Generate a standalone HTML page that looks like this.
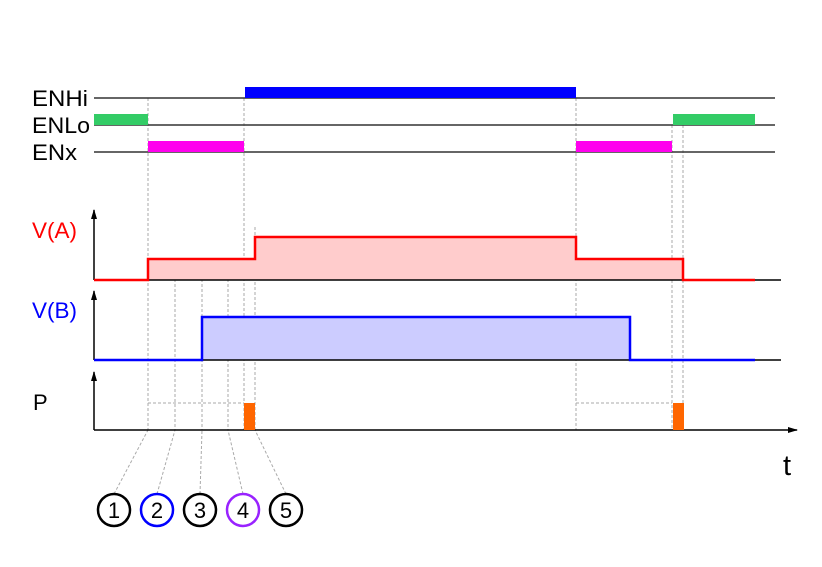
<!DOCTYPE html>
<html><head><meta charset="utf-8"><style>body{margin:0;background:#fff}svg{display:block}text{font-family:"Liberation Sans",sans-serif}</style></head><body>
<svg width="822" height="567" viewBox="0 0 822 567" xmlns="http://www.w3.org/2000/svg">
<defs><marker id="a" markerWidth="10" markerHeight="6" refX="9" refY="3" orient="auto" markerUnits="userSpaceOnUse"><path d="M0,0 L10,3 L0,6 Z" fill="#000"/></marker></defs>
<g stroke="#aaa" stroke-width="1" stroke-dasharray="3,2" fill="none">
<line x1="148" y1="98" x2="148" y2="430"/><line x1="244" y1="98" x2="244" y2="430"/>
<line x1="255" y1="227" x2="255" y2="430"/><line x1="175" y1="259" x2="175" y2="430"/>
<line x1="202" y1="259" x2="202" y2="430"/><line x1="228" y1="259" x2="228" y2="430"/>
<line x1="576" y1="98" x2="576" y2="430"/><line x1="672" y1="125" x2="672" y2="430"/>
<line x1="683" y1="125" x2="683" y2="430"/>
<line x1="148" y1="403" x2="244" y2="403"/><line x1="576" y1="403" x2="672" y2="403"/>
<line x1="114" y1="494" x2="148" y2="430"/><line x1="157" y1="494" x2="175" y2="430"/>
<line x1="200" y1="494" x2="202" y2="430"/><line x1="243" y1="494" x2="228" y2="430"/>
<line x1="286" y1="494" x2="255" y2="430"/>
</g>
<g stroke="#333" stroke-width="1.5"><line x1="94" y1="98" x2="775" y2="98"/><line x1="94" y1="125" x2="775" y2="125"/><line x1="94" y1="152" x2="775" y2="152"/></g>
<rect x="245" y="87" width="331" height="11" fill="#0000ff"/>
<rect x="94" y="114" width="54" height="11" fill="#33cc66"/><rect x="673" y="114" width="82" height="11" fill="#33cc66"/>
<rect x="148" y="141" width="96" height="11" fill="#ff00ee"/><rect x="576" y="141" width="96" height="11" fill="#ff00ee"/>
<path d="M148,280 V259 H255 V237 H576 V259 H683 V280 Z" fill="#ffcccc"/>
<path d="M202,360 V317 H630 V360 Z" fill="#ccccff"/>
<g stroke="#000" stroke-width="1.5" fill="none">
<line x1="94" y1="280" x2="781" y2="280"/><line x1="94" y1="360" x2="781" y2="360"/>
<line x1="94" y1="280" x2="94" y2="210" marker-end="url(#a)"/>
<line x1="94" y1="360" x2="94" y2="291" marker-end="url(#a)"/>
<line x1="94" y1="430" x2="94" y2="372" marker-end="url(#a)"/>
<line x1="94" y1="430" x2="797" y2="430" marker-end="url(#a)"/>
</g>
<path d="M94,280 H148 V259 H255 V237 H576 V259 H683 V280 H755" stroke="#ff0000" stroke-width="2.5" fill="none"/>
<path d="M94,360 H202 V317 H630 V360 H755" stroke="#0000ff" stroke-width="2.5" fill="none"/>
<rect x="244" y="403" width="11" height="27" fill="#ff6600"/><rect x="673" y="403" width="11" height="27" fill="#ff6600"/>
<g font-size="22"><text x="32" y="106" textLength="56" lengthAdjust="spacingAndGlyphs">ENHi</text><text x="32" y="133" textLength="58" lengthAdjust="spacingAndGlyphs">ENLo</text><text x="32" y="160" textLength="45" lengthAdjust="spacingAndGlyphs">ENx</text>
<text x="32" y="238" fill="#ff0000" textLength="45" lengthAdjust="spacingAndGlyphs">V(A)</text><text x="32" y="318" fill="#0000ff" textLength="45" lengthAdjust="spacingAndGlyphs">V(B)</text><text x="33" y="410">P</text></g>
<text x="783" y="475" font-size="29">t</text>
<g stroke-width="2.5" fill="#fff"><circle cx="114" cy="510" r="16" stroke="#000"/><circle cx="157" cy="510" r="16" stroke="#0000ff"/><circle cx="200" cy="510" r="16" stroke="#000"/><circle cx="243" cy="510" r="16" stroke="#9922ff"/><circle cx="286" cy="510" r="16" stroke="#000"/></g>
<g font-size="22" text-anchor="middle"><text x="114" y="518">1</text><text x="157" y="518">2</text><text x="200" y="518">3</text><text x="243" y="518">4</text><text x="286" y="518">5</text></g>
</svg></body></html>
